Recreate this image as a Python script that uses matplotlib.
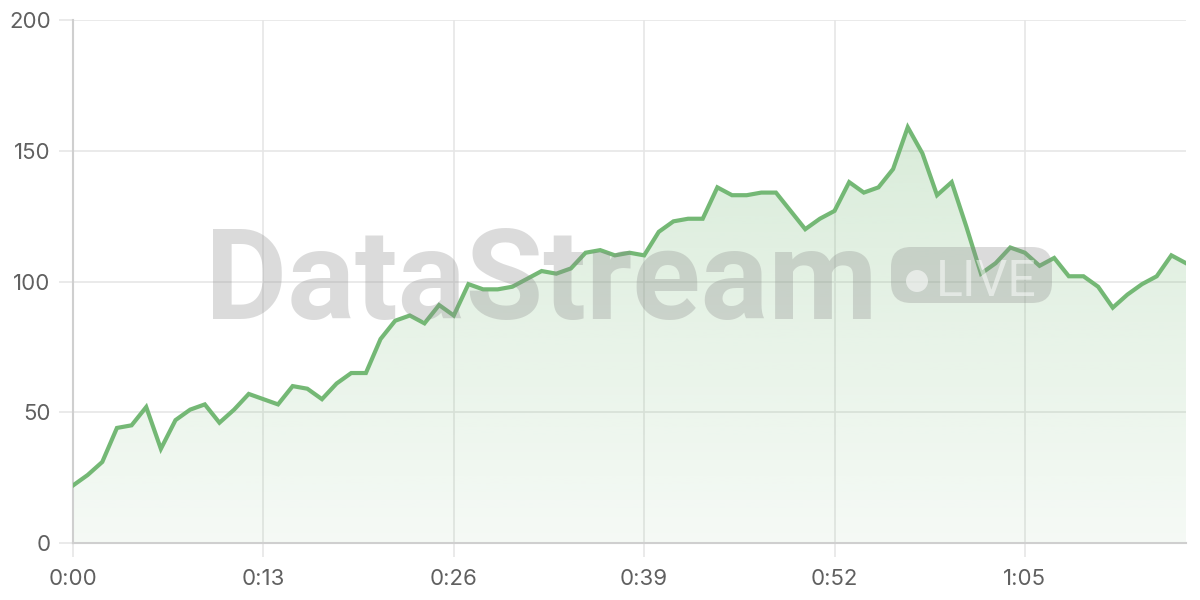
import numpy as np
import matplotlib
matplotlib.use("Agg")
import matplotlib.pyplot as plt
from matplotlib.patches import FancyBboxPatch, Polygon, Ellipse
from matplotlib.colors import LinearSegmentedColormap

values = [22, 26, 31, 44, 45, 52, 36, 47, 51, 53, 46, 51, 57, 55, 53, 60, 59, 55, 61, 65,
          65, 78, 85, 87, 84, 91, 87, 99, 97, 97, 98, 101, 104, 103, 105, 111, 112, 110, 111, 110,
          119, 123, 124, 124, 136, 133, 133, 134, 134, 127, 120, 124, 127, 138, 134, 136, 143, 159, 149, 133,
          138, 121, 103, 107, 113, 111, 106, 109, 102, 102, 98, 90, 95, 99, 102, 110, 107]
x_ticks = [0, 13, 26, 39, 52, 65]
x_labels = ["0:00", "0:13", "0:26", "0:39", "0:52", "1:05"]
y_ticks = [0, 50, 100, 150, 200]

plt.rcParams['font.family'] = ['Inter', 'DejaVu Sans']
W, H = 1200, 600
fig = plt.figure(figsize=(12, 6), dpi=100)
L, R, T, B = 73, 1186, 20, 543
ax = fig.add_axes([L / W, 1 - B / H, (R - L) / W, (B - T) / H])
n = len(values)
x = np.arange(n)

def px2data(px, py):
    return ((px - L) / (R - L) * (n - 1), (B - py) / (B - T) * 200)

line_c = '#74b875'
grad = np.linspace(0, 1, 256).reshape(-1, 1)
rgb = matplotlib.colors.to_rgb(line_c)
cmap = LinearSegmentedColormap.from_list('g', [(*rgb, 0.07), (*rgb, 0.27)])
im = ax.imshow(grad, aspect='auto', cmap=cmap, origin='lower',
               extent=[0, n - 1, 0, max(values)], zorder=1, interpolation='bilinear')
verts = [(0, 0)] + list(zip(x, values)) + [(n - 1, 0)]
poly = Polygon(verts, closed=True, facecolor='none', edgecolor='none')
ax.add_patch(poly)
im.set_clip_path(poly)
ax.set_xlim(0, n - 1)
ax.set_ylim(0, 200)

ax.plot(x, values, color=line_c, lw=3, zorder=3, solid_joinstyle='miter')

ax.set_xticks(x_ticks)
ax.set_xticklabels(x_labels)
ax.set_yticks(y_ticks)
ax.grid(True, color='#e6e6e6', lw=1.2, zorder=0)
ax.set_axisbelow(True)
for s in ['top', 'right']:
    ax.spines[s].set_visible(False)
for s in ['left', 'bottom']:
    ax.spines[s].set_color('#cfcfcf')
    ax.spines[s].set_linewidth(1.5)
ax.tick_params(axis='both', colors='#e6e6e6', length=10, width=1.2,
               labelcolor='#606060', labelsize=16)
ax.tick_params(axis='y', pad=6)
ax.tick_params(axis='x', pad=9)

# watermark
wm_gray = '#8a8a8a'
tx, ty = px2data(541, 284)
ax.text(tx, ty, 'DataStream', ha='center', va='center', fontsize=91, fontweight='bold',
        color=wm_gray, alpha=0.3, zorder=5, family='Roboto')
x0, y1 = px2data(891, 247)
x1, y0 = px2data(1052, 303)
xs_per_px = (n - 1) / (R - L)
ys_per_px = 200 / (B - T)
rad_px = 20
pill = FancyBboxPatch((x0, y0), x1 - x0, y1 - y0,
                      boxstyle=f'round,pad=0,rounding_size={rad_px * xs_per_px}',
                      mutation_aspect=ys_per_px / xs_per_px,
                      facecolor=wm_gray, alpha=0.3, edgecolor='none', zorder=5)
ax.add_patch(pill)
cx, cy = px2data(917, 281)
ax.add_patch(Ellipse((cx, cy), 22 * xs_per_px, 22 * ys_per_px, facecolor='white', alpha=0.55,
                     edgecolor='none', zorder=6))
lx, ly = px2data(986, 282)
ax.text(lx, ly, 'LIVE', ha='center', va='center', fontsize=36,
        color='white', alpha=0.5, zorder=6, family='Roboto')

fig.savefig('out.png', dpi=100)
